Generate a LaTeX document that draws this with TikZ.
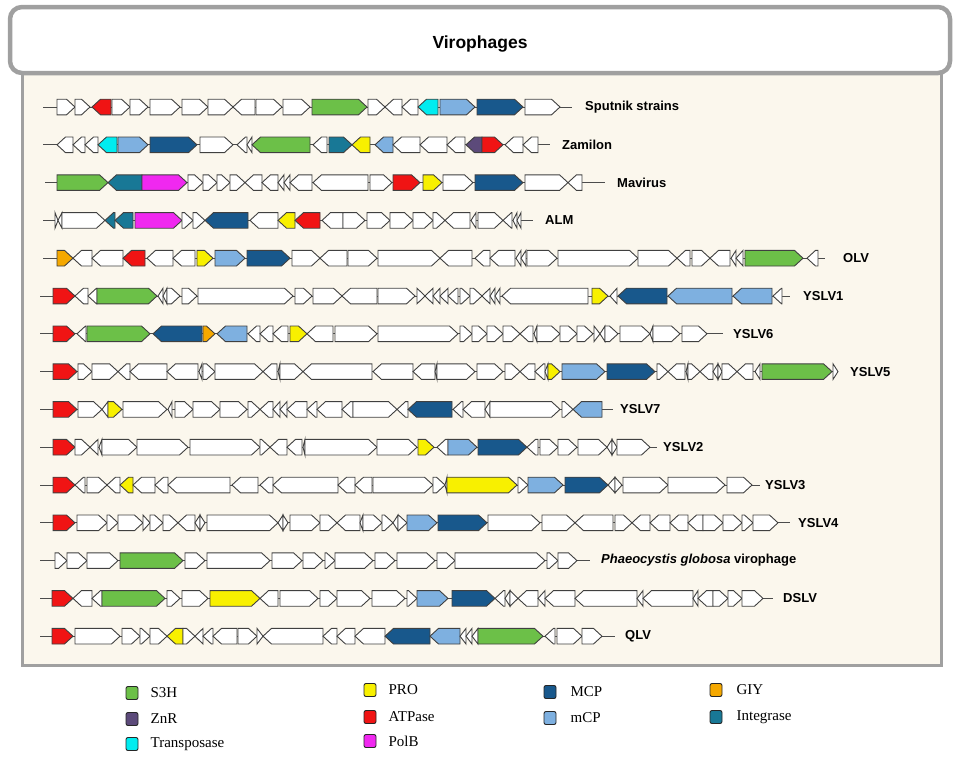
\documentclass[tikz,border=0pt]{standalone}
\usepackage{fontspec}
\setmainfont{Liberation Sans}
\newfontfamily\legfont{Liberation Serif}
\usetikzlibrary{positioning}

\definecolor{panelbg}{RGB}{251,247,237}
\definecolor{framegray}{RGB}{160,160,160}
\colorlet{w}{white}
\definecolor{s3h}{RGB}{108,192,72}
\definecolor{znr}{RGB}{92,74,122}
\definecolor{trans}{RGB}{0,236,240}
\definecolor{pro}{RGB}{248,240,0}
\definecolor{atp}{RGB}{240,20,20}
\definecolor{polb}{RGB}{240,40,240}
\definecolor{mcp}{RGB}{24,88,140}
\definecolor{mcpl}{RGB}{126,176,224}
\definecolor{giy}{RGB}{245,168,0}
\definecolor{integ}{RGB}{24,120,150}

\tikzset{
  genebox/.style={draw=black!75, line width=0.9pt, line join=miter},
  backbone/.style={draw=black!70, line width=1pt},
  vlab/.style={anchor=west, inner sep=0pt, font=\fontsize{13}{15}\selectfont\bfseries},
  keybox/.style={draw=black!85, line width=0.9pt, rounded corners=2pt, minimum width=12pt, minimum height=13pt, inner sep=0pt},
  keytxt/.style={inner sep=0pt, font=\legfont\fontsize{15}{17}\selectfont}
}

% one gene: start, end, r/l, fill, track y
\newcommand{\gene}[5]{%
  \pgfmathsetmacro\gtip{min(8.5,#2-#1)}%
  \if r#3
    \draw[genebox, fill=#4] (#1,#5-7.8) -- ({#2-\gtip},#5-7.8) -- (#2,#5) -- ({#2-\gtip},#5+7.8) -- (#1,#5+7.8) -- cycle;
  \else
    \draw[genebox, fill=#4] (#2,#5-7.8) -- ({#1+\gtip},#5-7.8) -- (#1,#5) -- ({#1+\gtip},#5+7.8) -- (#2,#5+7.8) -- cycle;
  \fi}

\begin{document}
\begin{tikzpicture}[x=1pt, y=-1pt]
\useasboundingbox (0,0) rectangle (960,756);

% panel and header
\fill[panelbg] (22,60) rectangle (941,665);
\draw[framegray, line width=3pt] (22,60) -- (22,665) -- (941,665) -- (941,60);
\draw[framegray, line width=4.5pt, fill=white, rounded corners=12pt] (10,7) rectangle (950,73);
\node[font=\fontsize{17.5}{20}\selectfont\bfseries] (title) at (480,44) {Virophages};

% Sputnik strains
\def\ty{107}
\draw[backbone] (43,\ty) -- (572,\ty);
\foreach \a/\b/\d/\c in {57/75/r/w, 75/90/r/w, 92/111/l/atp, 112/130/r/w, 130/148/r/w, 150/180/r/w, 182/208/r/w,
    208/233/r/w, 233/255/l/w, 256/282/r/w, 283/310/r/w, 312/367/r/s3h, 368/385/r/w, 385/402/l/w, 402/418/l/w,
    418/438/l/trans, 440/475/r/mcpl, 477/523/r/mcp, 525/560/r/w}
  {\gene{\a}{\b}{\d}{\c}{\ty}}
\node[vlab] (sputnik) at (585,\ty) {Sputnik strains};

% Zamilon
\def\ty{144.8}
\draw[backbone] (43,\ty) -- (550,\ty);
\foreach \a/\b/\d/\c in {57/73/l/w, 73/85/l/w, 85/98/l/w, 98/117/l/trans, 118/148/r/mcpl, 150/197/r/mcp, 200/233/r/w,
    237/247/l/w, 247/252/l/w, 252/310/l/s3h, 313/327/l/w, 329/352/r/integ, 352/370/l/pro, 375/393/l/mcpl, 393/420/l/w,
    420/447/l/w, 447/465/l/w, 466/482/l/znr, 482/503/r/atp, 505/523/l/w, 523/538/l/w}
  {\gene{\a}{\b}{\d}{\c}{\ty}}
\node[vlab] (zamilon) at (562,\ty) {Zamilon};

% Mavirus
\def\ty{182.6}
\draw[backbone] (45,\ty) -- (605,\ty);
\foreach \a/\b/\d/\c in {57/108/r/s3h, 108/142/l/integ, 142/187/r/polb, 188/203/r/w, 203/217/r/w, 217/230/r/w,
    230/245/r/w, 245/262/l/w, 262/278/l/w, 278/284/l/w, 284/290/l/w, 290/312/l/w, 313/368/l/w, 370/392/r/w,
    393/420/r/atp, 423/442/r/pro, 443/473/r/w, 475/523/r/mcp, 525/568/r/w, 568/582/l/w}
  {\gene{\a}{\b}{\d}{\c}{\ty}}
\node[vlab] (mavirus) at (617,\ty) {Mavirus};

% ALM
\def\ty{220.4}
\draw[backbone] (43,\ty) -- (533,\ty);
\foreach \a/\b/\d/\c in {55/58/r/w, 58/62/l/w, 62/105/r/w, 105/115/l/integ, 115/133/l/integ, 135/182/r/polb,
    182/193/r/w, 193/205/r/w, 205/248/l/mcp, 250/278/l/w, 278/295/l/pro, 295/320/l/atp, 322/343/l/w, 343/365/r/w,
    367/390/r/w, 390/413/r/w, 413/433/r/w, 433/445/r/w, 445/470/l/w, 471/476/l/w, 478/503/r/w, 503/512/l/w,
    513/517/l/w, 517/521/l/w}
  {\gene{\a}{\b}{\d}{\c}{\ty}}
\node[vlab] (alm) at (545,\ty) {ALM};

% OLV
\def\ty{258.2}
\draw[backbone] (43,\ty) -- (825,\ty);
\foreach \a/\b/\d/\c in {57/73/r/giy, 73/92/l/w, 92/123/l/w, 123/145/l/atp, 147/173/l/w, 173/195/l/w, 197/213/r/pro,
    215/245/r/mcpl, 247/290/r/mcp, 292/320/r/w, 320/347/l/w, 348/377/r/w, 378/440/r/w, 440/472/l/w, 475/490/l/w,
    490/515/l/w, 516/521/l/w, 521/526/l/w, 527/557/r/w, 558/638/r/w, 638/677/r/w, 677/690/l/w, 692/710/r/w,
    710/730/l/w, 731/736/l/w, 736/743/l/w, 745/803/r/s3h, 807/818/l/w}
  {\gene{\a}{\b}{\d}{\c}{\ty}}
\node[vlab] (olv) at (843,\ty) {OLV};

% YSLV1
\def\ty{296}
\draw[backbone] (40,\ty) -- (790,\ty);
\foreach \a/\b/\d/\c in {53/75/r/atp, 75/88/l/w, 88/97/l/w, 97/157/r/s3h, 158/163/l/w, 163/167/l/w, 167/180/r/w,
    182/197/r/w, 198/293/r/w, 295/312/r/w, 313/342/r/w, 342/377/l/w, 378/415/r/w, 417/425/r/w, 425/433/l/w,
    433/440/l/w, 440/448/l/w, 448/458/l/w, 460/470/r/w, 470/482/r/w, 482/490/l/w, 490/495/l/w, 495/500/l/w,
    502/588/l/w, 592/608/r/pro, 610/617/l/w, 618/667/l/mcp, 668/732/l/mcpl, 733/772/l/mcpl, 773/782/l/w}
  {\gene{\a}{\b}{\d}{\c}{\ty}}
\node[vlab] (yslv1) at (803,\ty) {YSLV1};

% YSLV6
\def\ty{333.8}
\draw[backbone] (40,\ty) -- (723,\ty);
\foreach \a/\b/\d/\c in {53/75/r/atp, 77/86/l/w, 87/150/r/s3h, 153/202/l/mcp, 203/215/r/giy, 217/247/l/mcpl,
    248/260/l/w, 260/273/l/w, 273/288/l/w, 290/307/r/pro, 307/333/l/w, 335/377/r/w, 378/458/r/w, 460/472/r/w,
    472/487/r/w, 487/503/r/w, 503/520/r/w, 520/533/l/w, 534/537/l/w, 537/560/r/w, 560/577/r/w, 577/593/r/w,
    594/600/r/w, 600/605/l/w, 605/618/r/w, 620/650/r/w, 650/653/l/w, 653/680/r/w, 682/707/r/w}
  {\gene{\a}{\b}{\d}{\c}{\ty}}
\node[vlab] (yslv6) at (733,\ty) {YSLV6};

% YSLV5
\def\ty{371.6}
\draw[backbone] (40,\ty) -- (838,\ty);
\foreach \a/\b/\d/\c in {53/77/r/atp, 78/92/r/w, 92/118/r/w, 118/130/l/w, 130/167/l/w, 167/198/l/w, 199/202/l/w,
    203/215/r/w, 215/263/r/w, 263/277/l/w, 278/280/l/w, 280/303/r/w, 303/372/l/w, 373/413/l/w, 413/435/l/w,
    435/437/l/w, 437/475/r/w, 477/503/r/w, 505/520/r/w, 520/535/l/w, 535/545/l/w, 545/548/l/w, 548/560/r/pro,
    562/605/r/mcpl, 607/655/r/mcp, 657/668/r/w, 668/685/l/w, 686/688/l/w, 688/700/r/w, 700/713/l/w, 713/718/l/w,
    718/722/r/w, 722/737/r/w, 737/753/l/w, 755/760/l/w, 762/832/r/s3h, 833/838/r/w}
  {\gene{\a}{\b}{\d}{\c}{\ty}}
\node[vlab] (yslv5) at (850,\ty) {YSLV5};

% YSLV7
\def\ty{409.4}
\draw[backbone] (40,\ty) -- (613,\ty);
\foreach \a/\b/\d/\c in {53/77/r/atp, 78/102/r/w, 102/108/l/w, 108/122/r/pro, 123/167/r/w, 168/172/l/w,
    175/193/r/w, 193/220/r/w, 220/247/r/w, 248/260/r/w, 260/273/l/w, 273/280/l/w, 280/287/l/w, 287/307/l/w,
    307/317/l/w, 317/342/l/w, 342/353/l/w, 353/397/r/w, 397/408/l/w, 408/452/l/mcp, 453/463/l/w, 463/485/l/w,
    485/490/l/w, 490/560/r/w, 562/573/r/w, 573/602/l/mcpl}
  {\gene{\a}{\b}{\d}{\c}{\ty}}
\node[vlab] (yslv7) at (620,\ty) {YSLV7};

% YSLV2
\def\ty{447.2}
\draw[backbone] (40,\ty) -- (657,\ty);
\foreach \a/\b/\d/\c in {53/75/r/atp, 75/90/r/w, 90/98/l/w, 99/102/l/w, 102/137/r/w, 137/188/r/w, 190/260/r/w,
    260/270/r/w, 270/287/l/w, 287/302/l/w, 303/305/l/w, 305/377/r/w, 377/417/r/w, 418/434/r/pro, 437/448/l/w,
    448/477/r/mcpl, 478/527/r/mcp, 527/538/l/w, 540/558/r/w, 558/577/r/w, 578/607/r/w, 607/612/l/w, 612/617/r/w,
    617/650/r/w}
  {\gene{\a}{\b}{\d}{\c}{\ty}}
\node[vlab] (yslv2) at (663,\ty) {YSLV2};

% YSLV3
\def\ty{485}
\draw[backbone] (40,\ty) -- (760,\ty);
\foreach \a/\b/\d/\c in {53/75/r/atp, 75/85/l/w, 87/107/r/w, 107/120/l/w, 120/133/l/pro, 133/155/l/w, 155/168/l/w,
    168/230/l/w, 232/258/l/w, 260/273/l/w, 273/338/l/w, 338/355/l/w, 355/372/l/w, 373/433/r/w, 433/445/r/w,
    445/447/l/w, 447/517/r/pro, 518/528/r/w, 528/563/r/mcpl, 565/608/r/mcp, 608/615/l/w, 615/622/r/w,
    623/668/r/w, 668/725/r/w, 727/752/r/w}
  {\gene{\a}{\b}{\d}{\c}{\ty}}
\node[vlab] (yslv3) at (765,\ty) {YSLV3};

% YSLV4
\def\ty{522.8}
\draw[backbone] (40,\ty) -- (790,\ty);
\foreach \a/\b/\d/\c in {53/75/r/atp, 77/107/r/w, 107/118/r/w, 118/143/r/w, 143/150/r/w, 150/163/r/w, 163/178/r/w,
    178/195/l/w, 195/200/l/w, 200/205/r/w, 207/278/r/w, 278/283/l/w, 283/288/r/w, 290/320/r/w, 320/337/r/w,
    337/360/l/w, 360/363/l/w, 363/382/r/w, 382/393/r/w, 393/398/l/w, 398/407/r/w, 407/437/r/mcpl, 438/487/r/mcp,
    488/540/r/w, 542/575/r/w, 575/613/l/w, 615/632/r/w, 632/650/l/w, 650/670/l/w, 670/688/l/w, 688/703/l/w,
    703/723/r/w, 723/742/r/w, 742/753/r/w, 753/778/r/w}
  {\gene{\a}{\b}{\d}{\c}{\ty}}
\node[vlab] (yslv4) at (798,\ty) {YSLV4};

% Phaeocystis globosa virophage
\def\ty{560.6}
\draw[backbone] (40,\ty) -- (590,\ty);
\foreach \a/\b/\d/\c in {55/67/r/w, 67/87/r/w, 87/118/r/w, 120/183/r/s3h, 185/205/r/w, 207/270/r/w, 272/302/r/w,
    303/323/r/w, 325/335/r/w, 335/373/r/w, 375/395/r/w, 397/435/r/w, 437/455/r/w, 455/545/r/w, 547/558/r/w,
    558/577/r/w}
  {\gene{\a}{\b}{\d}{\c}{\ty}}
\node[vlab] (pgv) at (601,\ty) {\textit{Phaeocystis globosa} virophage};

% DSLV
\def\ty{598.4}
\draw[backbone] (40,\ty) -- (773,\ty);
\foreach \a/\b/\d/\c in {52/73/r/atp, 73/92/l/w, 92/102/l/w, 102/165/r/s3h, 167/180/r/w, 182/208/r/w, 210/260/r/pro,
    260/278/l/w, 280/318/r/w, 320/337/r/w, 337/370/r/w, 372/405/r/w, 407/417/r/w, 417/448/r/mcpl, 452/495/r/mcp,
    495/505/l/w, 505/510/l/w, 510/518/r/w, 518/538/l/w, 538/545/l/w, 545/575/l/w, 575/637/l/w, 637/643/l/w,
    643/693/l/w, 693/698/l/w, 698/713/l/w, 713/728/r/w, 728/742/r/w, 742/763/r/w}
  {\gene{\a}{\b}{\d}{\c}{\ty}}
\node[vlab] (dslv) at (783,\ty) {DSLV};

% QLV
\def\ty{636.2}
\draw[backbone] (40,\ty) -- (615,\ty);
\foreach \a/\b/\d/\c in {52/73/r/atp, 75/120/r/w, 122/140/r/w, 140/150/r/w, 150/167/r/w, 167/183/l/pro, 183/195/r/w,
    195/203/l/w, 203/213/l/w, 213/237/l/w, 238/257/r/w, 257/263/r/w, 263/323/l/w, 323/337/l/w, 337/355/l/w,
    355/385/l/w, 385/430/l/mcp, 430/460/l/mcpl, 460/466/l/w, 466/472/l/w, 472/478/l/w, 478/543/r/s3h,
    545/555/l/w, 557/582/r/w, 582/602/r/w}
  {\gene{\a}{\b}{\d}{\c}{\ty}}
\node[vlab] (qlv) at (625,\ty) {QLV};

% legend
\node[keybox, fill=s3h]   (k-s3h)   at (132,693) {};
\node[keybox, fill=znr]   (k-znr)   at (132,719) {};
\node[keybox, fill=trans] (k-trans) at (132,744) {};
\node[keybox, fill=pro]   (k-pro)   at (370,690) {};
\node[keybox, fill=atp]   (k-atp)   at (370,717) {};
\node[keybox, fill=polb]  (k-polb)  at (370,741) {};
\node[keybox, fill=mcp]   (k-mcp)   at (550,692) {};
\node[keybox, fill=mcpl]  (k-mcpl)  at (550,718) {};
\node[keybox, fill=giy]   (k-giy)   at (716,690) {};
\node[keybox, fill=integ] (k-integ) at (716,717) {};
\node[keytxt, right=12pt of k-s3h]   (t-s3h)   {S3H};
\node[keytxt, right=12pt of k-znr]   (t-znr)   {ZnR};
\node[keytxt, right=12pt of k-trans] (t-trans) {Transposase};
\node[keytxt, right=12pt of k-pro]   (t-pro)   {PRO};
\node[keytxt, right=12pt of k-atp]   (t-atp)   {ATPase};
\node[keytxt, right=12pt of k-polb]  (t-polb)  {PolB};
\node[keytxt, right=14pt of k-mcp]   (t-mcp)   {MCP};
\node[keytxt, right=14pt of k-mcpl]  (t-mcpl)  {mCP};
\node[keytxt, right=14pt of k-giy]   (t-giy)   {GIY};
\node[keytxt, right=14pt of k-integ] (t-integ) {Integrase};
\end{tikzpicture}
\end{document}
